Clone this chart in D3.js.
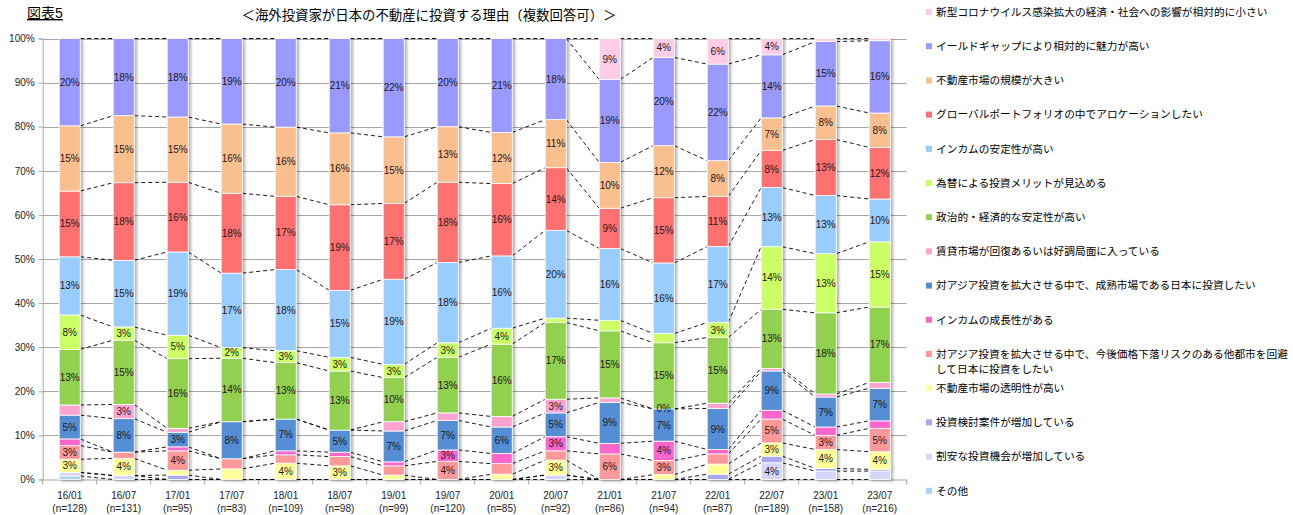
<!DOCTYPE html>
<html lang="ja">
<head>
<meta charset="utf-8">
<script src="https://cdn.jsdelivr.net/npm/d3@7"></script>
<style>
  html, body { margin: 0; padding: 0; background: #fff; }
  svg { display: block; font-family: "Liberation Sans", Arial, "Noto Sans CJK JP", sans-serif; }
</style>
</head>
<body>
<svg id="chart" width="1293" height="515"></svg>
<script>
// Survey periods and respondent counts
const categories = ["16/01","16/07","17/01","17/07","18/01","18/07","19/01","19/07",
                    "20/01","20/07","21/01","21/07","22/01","22/07","23/01","23/07"];
const respondents = ["n=128","n=131","n=95","n=83","n=109","n=98","n=99","n=120",
                     "n=85","n=92","n=86","n=94","n=87","n=189","n=158","n=216"];

// Share of answers (%) per reason, one value per period
const other            = [0.8,0,0,0,0,0,0,0,0,0,0,0,0,0,0,0];
const bargainDeals     = [0.8,0.9,0,0,0,0,0,0,0,1.0,0,0,0,3.8,1.9,1.9];
const morePipeline     = [0,0,1.0,0,0,0,0,0,0,0,0,0,1.2,1.5,0.6,0.4];
const transparency     = [3.0,3.9,1.1,2.4,3.7,3.1,1.0,0,1.2,3.4,0,1.1,2.3,3.0,4.3,4.0];
const avoidRiskCities  = [3.1,1.4,4.4,2.3,1.9,2.1,2.1,4.1,2.4,2.1,5.8,3.2,2.3,5.4,3.2,5.3];
const incomeGrowth     = [1.5,0,0.9,0,0.9,1.0,0.9,2.6,2.3,3.2,2.4,4.4,1.0,2.0,1.9,1.7];
const matureMarket     = [5.4,7.6,3.3,8.4,7.2,5.0,7.0,6.7,6.0,5.4,9.3,7.3,9.3,8.9,6.8,7.4];
const rentalRecovery   = [2.3,3.2,0.9,0,0,0,2.1,1.7,2.4,3.1,1.0,0,1.2,0.6,0.7,1.3];
const politicalStable  = [12.6,14.6,15.8,14.4,12.8,13.4,10.0,12.6,16.4,17.4,15.2,15.0,14.9,13.4,18.4,17.1];
const currencyMerit    = [7.8,3.0,5.3,2.4,2.7,3.1,3.0,3.3,3.6,1.0,2.4,2.1,3.4,14.2,13.4,14.8];
const incomeStability  = [13.2,15.1,18.9,16.9,18.4,15.2,19.3,18.2,16.4,19.9,16.3,16.0,17.2,13.4,13.2,9.7];
const globalPortfolio  = [14.9,17.6,15.8,18.1,16.6,19.4,17.2,18.2,16.4,14.2,9.1,14.8,11.4,8.4,12.7,11.7];
const marketSize       = [14.8,15.2,14.8,15.7,15.7,16.3,15.1,12.6,11.6,10.9,10.4,11.8,8.1,7.4,7.6,7.8];
const yieldGap         = [19.8,17.5,17.8,19.4,20.1,21.4,22.3,20.0,21.3,18.4,18.8,20.0,21.9,14.3,14.6,16.4];
const covidImpact      = [0,0,0,0,0,0,0,0,0,0,9.3,4.3,5.8,3.7,0.7,0.5];

// Stack order, bottom to top
const seriesKeys = ["other","bargainDeals","morePipeline","transparency","avoidRiskCities",
  "incomeGrowth","matureMarket","rentalRecovery","politicalStable","currencyMerit",
  "incomeStability","globalPortfolio","marketSize","yieldGap","covidImpact"];
const seriesValues = [other,bargainDeals,morePipeline,transparency,avoidRiskCities,
  incomeGrowth,matureMarket,rentalRecovery,politicalStable,currencyMerit,
  incomeStability,globalPortfolio,marketSize,yieldGap,covidImpact];
const seriesNames = [
  "その他",
  "割安な投資機会が増加している",
  "投資検討案件が増加している",
  "不動産市場の透明性が高い",
  ["対アジア投資を拡大させる中で、今後価格下落リスクのある他都市を回避","して日本に投資をしたい"],
  "インカムの成長性がある",
  "対アジア投資を拡大させる中で、成熟市場である日本に投資したい",
  "賃貸市場が回復あるいは好調局面に入っている",
  "政治的・経済的な安定性が高い",
  "為替による投資メリットが見込める",
  "インカムの安定性が高い",
  "グローバルポートフォリオの中でアロケーションしたい",
  "不動産市場の規模が大きい",
  "イールドギャップにより相対的に魅力が高い",
  "新型コロナウイルス感染拡大の経済・社会への影響が相対的に小さい"
];
const seriesColors = ["#A9D0F5","#D6D6FA","#A8A8F0","#FFFF99","#FF9999",
  "#FF66CC","#558ED5","#FFA3D1","#92D050","#CCFF66",
  "#99CCFF","#FF7171","#FABF8F","#9999FF","#FFCCE5"];

// Small shares that still carry a label on the chart
const extraLabels = [["currencyMerit","17/07"],["rentalRecovery","21/07"]];

const yTicks = [0,10,20,30,40,50,60,70,80,90,100];

const rows = categories.map((c, i) => {
  const r = { cat: c, n: respondents[i] };
  seriesKeys.forEach((k, j) => { r[k] = seriesValues[j][i]; });
  return r;
});

const svg = d3.select("#chart");
const plot = { left: 42.7, right: 906.7, top: 38.5, bottom: 479.5 };

const x = d3.scaleBand().domain(categories).range([plot.left, plot.right])
  .paddingInner(0.61).paddingOuter(0.305);
const y = d3.scaleLinear().domain([0, 100]).range([plot.bottom, plot.top]);

const stacked = d3.stack().keys(seriesKeys)(rows);

// Bar shadow
const defs = svg.append("defs");
const f = defs.append("filter").attr("id", "shadow")
  .attr("x", "-20%").attr("y", "-5%").attr("width", "160%").attr("height", "115%");
f.append("feDropShadow").attr("dx", 2.5).attr("dy", 1.5).attr("stdDeviation", 1.3)
  .attr("flood-color", "#000").attr("flood-opacity", 0.28);

// Gridlines
svg.append("g").selectAll("line").data(yTicks.filter(t => t > 0)).join("line")
  .attr("x1", plot.left).attr("x2", plot.right)
  .attr("y1", d => Math.round(y(d)) + 0.5).attr("y2", d => Math.round(y(d)) + 0.5)
  .attr("stroke", "#A6A6A6").attr("stroke-width", 1);

// Y axis
const yAxis = svg.append("g").attr("transform", `translate(${plot.left},0)`)
  .call(d3.axisLeft(y).tickValues(yTicks).tickFormat(d => d + "%").tickSize(4).tickPadding(4));
yAxis.select(".domain").attr("stroke", "#A6A6A6");
yAxis.selectAll(".tick line").attr("stroke", "#A6A6A6");
yAxis.selectAll(".tick text").attr("font-size", 10).attr("fill", "#222")
  .attr("font-family", "'Liberation Sans', Arial, sans-serif");

// X axis with band-boundary ticks
const xAxisG = svg.append("g").attr("transform", `translate(0,${plot.bottom})`);
xAxisG.append("line").attr("x1", plot.left).attr("x2", plot.right)
  .attr("y1", 0.5).attr("y2", 0.5).attr("stroke", "#A6A6A6");
const step = x.step();
xAxisG.selectAll("line.tk").data(d3.range(categories.length + 1)).join("line")
  .attr("class", "tk")
  .attr("x1", i => plot.left + i * step).attr("x2", i => plot.left + i * step)
  .attr("y1", 0).attr("y2", 5).attr("stroke", "#A6A6A6");
const xl = xAxisG.selectAll("text.cat").data(rows).join("text").attr("class", "cat")
  .attr("x", d => x(d.cat) + x.bandwidth() / 2)
  .attr("text-anchor", "middle").attr("font-size", 10).attr("fill", "#222");
xl.append("tspan").attr("x", d => x(d.cat) + x.bandwidth() / 2).attr("y", 19).text(d => d.cat);
xl.append("tspan").attr("x", d => x(d.cat) + x.bandwidth() / 2).attr("y", 32).text(d => `(${d.n})`);

// Series lines joining each segment top between neighbouring bars
const lineG = svg.append("g");
stacked.forEach(s => {
  for (let i = 0; i < s.length - 1; i++) {
    lineG.append("line")
      .attr("x1", x(categories[i]) + x.bandwidth()).attr("y1", y(s[i][1]))
      .attr("x2", x(categories[i + 1])).attr("y2", y(s[i + 1][1]))
      .attr("stroke", "#000").attr("stroke-width", 0.9).attr("stroke-dasharray", "4,3");
  }
});

// Bars
const barG = svg.append("g").attr("filter", "url(#shadow)");
barG.selectAll("g").data(stacked).join("g")
  .attr("fill", (d, i) => seriesColors[i])
  .selectAll("rect").data(d => d).join("rect")
  .attr("x", d => x(d.data.cat))
  .attr("width", x.bandwidth())
  .attr("y", d => y(d[1]))
  .attr("height", d => Math.max(0, y(d[0]) - y(d[1])))
  .attr("stroke", "#fff").attr("stroke-width", 0.8);

// Value labels
const labelG = svg.append("g");
stacked.forEach(s => {
  s.forEach(d => {
    const v = d[1] - d[0];
    const forced = extraLabels.some(e => e[0] === s.key && e[1] === d.data.cat);
    if (v >= 2.5 || forced) {
      labelG.append("text")
        .attr("x", x(d.data.cat) + x.bandwidth() / 2)
        .attr("y", y((d[0] + d[1]) / 2))
        .attr("dy", "0.35em")
        .attr("text-anchor", "middle")
        .attr("font-size", 10).attr("fill", "#1a1a1a")
        .text(Math.round(v) + "%");
    }
  });
});

// Titles
svg.append("text").attr("x", 27).attr("y", 18).attr("font-size", 14).attr("fill", "#000")
  .attr("text-decoration", "underline").text("図表5");
svg.append("text").attr("x", 429).attr("y", 20).attr("text-anchor", "middle")
  .attr("font-size", 13.4).attr("fill", "#000")
  .text("＜海外投資家が日本の不動産に投資する理由（複数回答可）＞");

// Legend, top entry is the top of the stack
const legend = svg.append("g").attr("transform", "translate(926,0)");
const order = d3.range(seriesKeys.length).reverse();
order.forEach((si, k) => {
  const yc = 12 + k * 34.2;
  legend.append("rect").attr("x", 0).attr("y", yc - 3).attr("width", 6).attr("height", 6)
    .attr("fill", seriesColors[si]);
  const name = seriesNames[si];
  const lines = Array.isArray(name) ? name : [name];
  lines.forEach((ln, li) => {
    legend.append("text").attr("x", 10).attr("y", yc + li * 15).attr("dy", "0.35em")
      .attr("font-size", 10.7).attr("fill", "#000")
      .attr("font-family", "'Noto Sans CJK JP', sans-serif").text(ln);
  });
});
</script>
</body>
</html>
